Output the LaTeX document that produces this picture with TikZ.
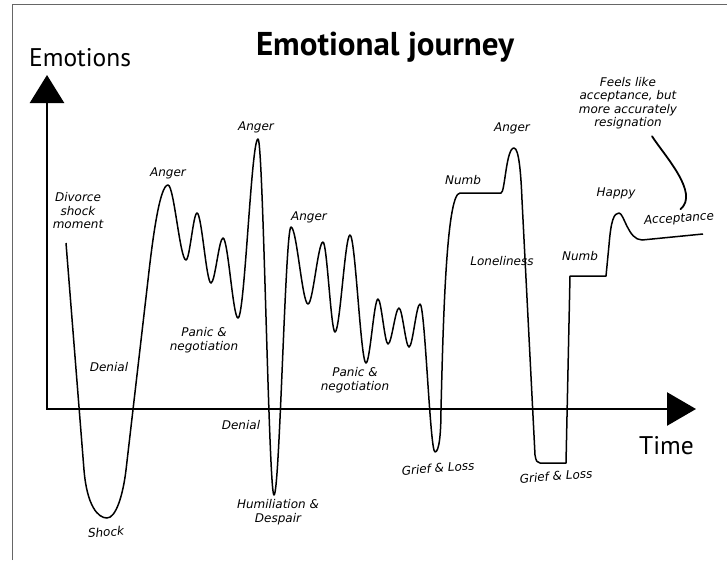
\documentclass[tikz,border=0pt]{standalone}
\usepackage{fontspec}
\usetikzlibrary{arrows.meta}
\newfontfamily\axisfont{PT Sans}
\newfontfamily\handfont{DejaVu Sans}
\begin{document}
\begin{tikzpicture}[x=1pt,y=-1pt,
    hand/.style={font=\handfont\itshape\fontsize{12}{13.5}\selectfont, align=center, inner sep=1pt},
    journey/.style={line width=1.5pt, line join=round},
    axis/.style={line width=2.6pt, line join=miter, {Triangle[length=28pt,width=34pt]}-{Triangle[length=29pt,width=33pt]}},
    frame/.style={black!60, line width=0.8pt},
    pointer/.style={line width=1.8pt, line cap=round}]
    \useasboundingbox (0,0) rectangle (727,560);
    \draw[frame] (12,560) |- (727,4);

    % axes and their labels
    \coordinate (origin) at (47,409);
    \draw[axis] (47,75) -- (origin) -- (696,409);
    \node[anchor=base west, font=\axisfont\fontsize{25.5}{28}\selectfont, inner sep=0pt] (emotions) at (29,66) {Emotions};
    \node[anchor=base west, font=\axisfont\fontsize{25.5}{28}\selectfont, inner sep=0pt] (time) at (639,454) {Time};
    \node[anchor=base, font=\axisfont\bfseries\fontsize{33}{36}\selectfont, inner sep=0pt] (title) at (385,55) {Emotional journey};

    % the journey
    \draw[journey] (66,243) -- (84,470)
        .. controls (87,506) and (98,518) .. (107,518)
        .. controls (116,518) and (123,495) .. (126,470)
        -- (148,280)
        .. controls (153,235) and (160,185) .. (168,185)
        .. controls +(6,0) and +(-6,0) .. (186,260)
        .. controls +(3.7,0) and +(-3.7,0) .. (197,213)
        .. controls +(4.7,0) and +(-4.7,0) .. (211,283)
        .. controls +(4,0) and +(-4,0) .. (223,238)
        .. controls +(5,0) and +(-5,0) .. (238,318)
        .. controls +(6.7,0) and +(-6.7,0) .. (258,139)
        .. controls +(5.3,0) and +(-5.3,0) .. (274,495)
        .. controls +(5.7,0) and +(-5.7,0) .. (291,227)
        .. controls +(5.7,0) and +(-5.7,0) .. (308,304)
        .. controls +(5,0) and +(-5,0) .. (323,242)
        .. controls +(4,0) and +(-4,0) .. (335,332)
        .. controls +(5,0) and +(-5,0) .. (350,235)
        .. controls +(5.3,0) and +(-5.3,0) .. (366,363)
        .. controls +(4,0) and +(-4,0) .. (378,299)
        .. controls +(3.3,0) and +(-3.3,0) .. (388,344)
        .. controls +(3.7,0) and +(-3.7,0) .. (399,308)
        .. controls +(3.3,0) and +(-3.3,0) .. (409,347)
        .. controls +(3.7,0) and +(-3.7,0) .. (420,304)
        .. controls +(5,0) and +(-5,0) .. (435,452)
        .. controls (439,452) and (441,435) .. (441,409)
        .. controls (443,330) and (446,193) .. (460,193)
        -- (501,193)
        .. controls (505,193) and (506,148) .. (514,148)
        .. controls (519,148) and (521,175) .. (522,200)
        -- (535,455)
        .. controls (536,461) and (537,463) .. (540,463)
        -- (566,463) -- (570,276) -- (606,276) -- (609,245)
        .. controls (611,220) and (614,213) .. (619,213)
        .. controls (624,213) and (628,240) .. (642,240)
        -- (703,234);

    % stages
    \node[hand] (divorce) at (78,211) {Divorce\\shock\\moment};
    \node[hand] (denial1) at (109,367) {Denial};
    \node[hand, rotate=4] (shock) at (106,532) {Shock};
    \node[hand] (anger1) at (168,173) {Anger};
    \node[hand] (panic1) at (204,340) {Panic \&\\negotiation};
    \node[hand] (anger2) at (256,127) {Anger};
    \node[hand] (denial2) at (241,425) {Denial};
    \node[hand] (humiliation) at (278,512) {Humiliation \&\\Despair};
    \node[hand] (anger3) at (309,217) {Anger};
    \node[hand] (panic2) at (355,380) {Panic \&\\negotiation};
    \node[hand, rotate=4] (grief1) at (438,468) {Grief \& Loss};
    \node[hand] (numb1) at (463,180) {Numb};
    \node[hand] (anger4) at (512,128) {Anger};
    \node[hand] (loneliness) at (502,261) {Loneliness};
    \node[hand, rotate=4] (grief2) at (556,476) {Grief \& Loss};
    \node[hand] (numb2) at (580,256) {Numb};
    \node[hand] (happy) at (616,193) {Happy};
    \node[hand, rotate=4] (accept) at (679,219) {Acceptance};
    \node[hand] (note) at (628,103) {Feels like\\acceptance, but\\more accurately\\resignation};
    \draw[pointer] ([xshift=24pt,yshift=-6pt]note.south) .. controls +(13,20) and +(19,-16) .. ([xshift=2pt,yshift=3pt]accept.north);
\end{tikzpicture}
\end{document}
